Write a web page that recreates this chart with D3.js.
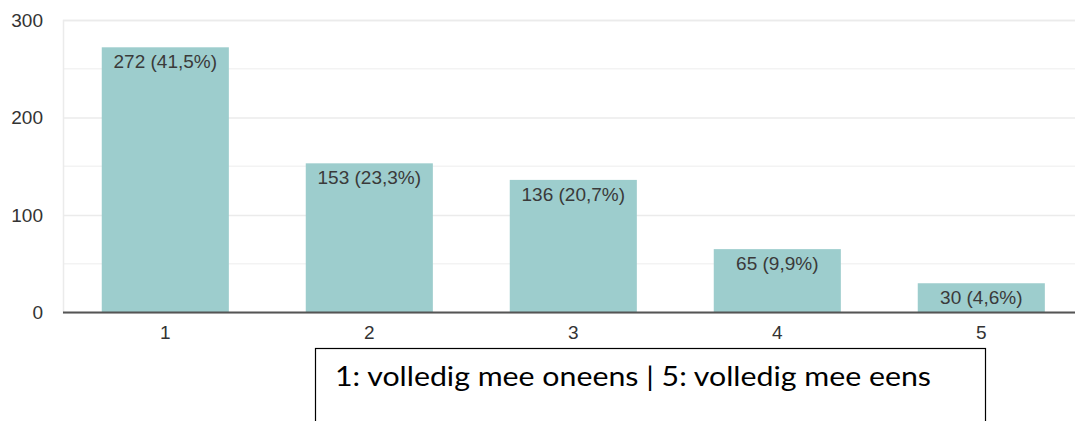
<!DOCTYPE html>
<html>
<head>
<meta charset="utf-8">
<script src="https://cdn.jsdelivr.net/npm/d3@7"></script>
<style>
  body { margin: 0; background: #fff; }
  svg { display: block; }
  .tick text { font-family: "Liberation Sans", Arial, sans-serif; }
</style>
</head>
<body>
<div id="chart"></div>
<script>
// data
var categories = ["1", "2", "3", "4", "5"];
var counts = [272, 153, 136, 65, 30];
var percents = ["41,5%", "23,3%", "20,7%", "9,9%", "4,6%"];
var yTicks = [0, 100, 200, 300];
var yMinor = [50, 150, 250];
var note = "1: volledig mee oneens | 5: volledig mee eens";

var width = 1075, height = 421;
var margin = {top: 20, left: 63, bottom: 312.5};

var svg = d3.select("#chart").append("svg")
    .attr("width", width)
    .attr("height", height);

var x = d3.scaleBand()
    .domain(categories)
    .range([63, 1083.6])
    .paddingInner(0.377)
    .paddingOuter(0.19);

var y = d3.scaleLinear()
    .domain([0, 300])
    .range([margin.bottom, margin.top]);

// minor gridlines
svg.append("g").selectAll("line")
    .data(yMinor)
  .enter().append("line")
    .attr("x1", margin.left).attr("x2", width)
    .attr("y1", function(d) { return y(d); })
    .attr("y2", function(d) { return y(d); })
    .style("stroke", "#f3f3f3")
    .style("stroke-width", 1.5);

// major gridlines + labels
var yAxis = d3.axisLeft(y)
    .tickValues(yTicks)
    .tickSize(-(width - margin.left))
    .tickPadding(6)
    .tickFormat(d3.format("d"));

var gy = svg.append("g")
    .attr("transform", "translate(" + margin.left + ",0)")
    .call(yAxis);
gy.select(".domain").style("stroke", "#ebebeb").style("stroke-width", 1.5);
gy.selectAll(".tick line").style("stroke", "#ebebeb").style("stroke-width", 1.5);
gy.selectAll(".tick text")
    .attr("x", 43 - margin.left)
    .style("font-size", "19px")
    .style("fill", "#333");

// bars
svg.append("g").selectAll("rect")
    .data(counts)
  .enter().append("rect")
    .attr("x", function(d, i) { return x(categories[i]); })
    .attr("y", function(d) { return y(d); })
    .attr("width", x.bandwidth())
    .attr("height", function(d) { return y(0) - y(d); })
    .style("fill", "#9dcdcd");

// value labels
svg.append("g").selectAll("text")
    .data(counts)
  .enter().append("text")
    .attr("x", function(d, i) { return x(categories[i]) + x.bandwidth() / 2; })
    .attr("y", function(d) { return y(d) + 21; })
    .attr("text-anchor", "middle")
    .style("font-family", "'Liberation Sans', Arial, sans-serif")
    .style("font-size", "19px")
    .style("fill", "#3a3a3a")
    .text(function(d, i) { return d + " (" + percents[i] + ")"; });

// x axis
var xAxis = d3.axisBottom(x).tickSize(0).tickPadding(13);
var gx = svg.append("g")
    .attr("transform", "translate(0," + y(0) + ")")
    .call(xAxis);
gx.select(".domain").remove();
gx.selectAll(".tick text")
    .style("font-size", "19px")
    .style("fill", "#333");

svg.append("line")
    .attr("x1", margin.left).attr("x2", width)
    .attr("y1", y(0)).attr("y2", y(0))
    .style("stroke", "#555")
    .style("stroke-width", 2);

// note box
svg.append("rect")
    .attr("x", 315.5).attr("y", 348.5)
    .attr("width", 670).attr("height", 100)
    .style("fill", "#fff")
    .style("stroke", "#000")
    .style("stroke-width", 1.2);

svg.append("text")
    .attr("x", 335)
    .attr("y", 386)
    .attr("textLength", 596)
    .attr("lengthAdjust", "spacingAndGlyphs")
    .style("font-family", "Lato, 'Open Sans', sans-serif")
    .style("font-size", "27px")
    .style("fill", "#000")
    .text(note);
</script>
</body>
</html>
